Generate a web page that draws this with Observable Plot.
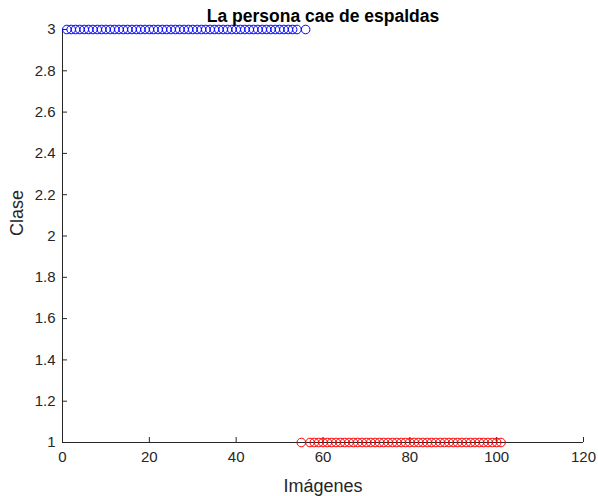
<!DOCTYPE html>
<html>
<head>
<meta charset="utf-8">
<script src="https://cdn.jsdelivr.net/npm/d3@7"></script>
<script src="https://cdn.jsdelivr.net/npm/@observablehq/plot@0.6"></script>
<style>
  html, body { margin: 0; padding: 0; background: white; }
</style>
</head>
<body>
<div id="chart"></div>
<script>
const title = "La persona cae de espaldas";
const xLabel = "Imágenes";
const yLabel = "Clase";
const xTicks = [0, 20, 40, 60, 80, 100, 120];
const yTicks = [1, 1.2, 1.4, 1.6, 1.8, 2, 2.2, 2.4, 2.6, 2.8, 3];

// Images classified as class 3 (blue) and class 1 (red)
const blueX = [1,2,3,4,5,6,7,8,9,10,11,12,13,14,15,16,17,18,19,20,21,22,23,24,25,26,27,28,29,30,31,32,33,34,35,36,37,38,39,40,41,42,43,44,45,46,47,48,49,50,51,52,53,54,56];
const blueClass = 3;
const redX = [55,57,58,59,60,61,62,63,64,65,66,67,68,69,70,71,72,73,74,75,76,77,78,79,80,81,82,83,84,85,86,87,88,89,90,91,92,93,94,95,96,97,98,99,100,101];
const redClass = 1;

const blueData = blueX.map(x => ({x, y: blueClass}));
const redData = redX.map(x => ({x, y: redClass}));

const axisColor = "#262626";

const chart = Plot.plot({
  width: 598,
  height: 496,
  marginLeft: 62,
  marginRight: 15,
  marginTop: 29,
  marginBottom: 54,
  style: {
    fontFamily: "'Liberation Sans', Arial, Helvetica, sans-serif",
    fontSize: "15px",
    color: axisColor,
    background: "white",
    overflow: "visible"
  },
  x: {domain: [0, 120]},
  y: {domain: [1, 3]},
  marks: [
    Plot.ruleX([0], {stroke: axisColor, strokeWidth: 1}),
    Plot.ruleY([1], {stroke: axisColor, strokeWidth: 1}),
    Plot.axisX({ticks: xTicks, tickSize: -5, tickPadding: 14, label: null, stroke: axisColor, fill: axisColor, tickFormat: d => String(d)}),
    Plot.axisY({ticks: yTicks, tickSize: -5, tickPadding: 12, label: null, stroke: axisColor, fill: axisColor, tickFormat: d => String(+d.toFixed(1))}),
    Plot.dot(blueData, {x: "x", y: "y", r: 4.3, stroke: "#0000ff", fill: "none", strokeWidth: 1}),
    Plot.dot(redData, {x: "x", y: "y", r: 4.3, stroke: "#ff0000", fill: "none", strokeWidth: 1}),
    Plot.text([title], {frameAnchor: "top", dy: -8, lineAnchor: "bottom", fontWeight: "bold", fontSize: 17.5, fill: "#000"}),
    Plot.text([xLabel], {frameAnchor: "bottom", dy: 49, lineAnchor: "bottom", fontSize: 18, fill: axisColor}),
    Plot.text([yLabel], {frameAnchor: "left", dx: -45, rotate: -90, fontSize: 18, fill: axisColor})
  ]
});
document.getElementById("chart").appendChild(chart);
</script>
</body>
</html>
